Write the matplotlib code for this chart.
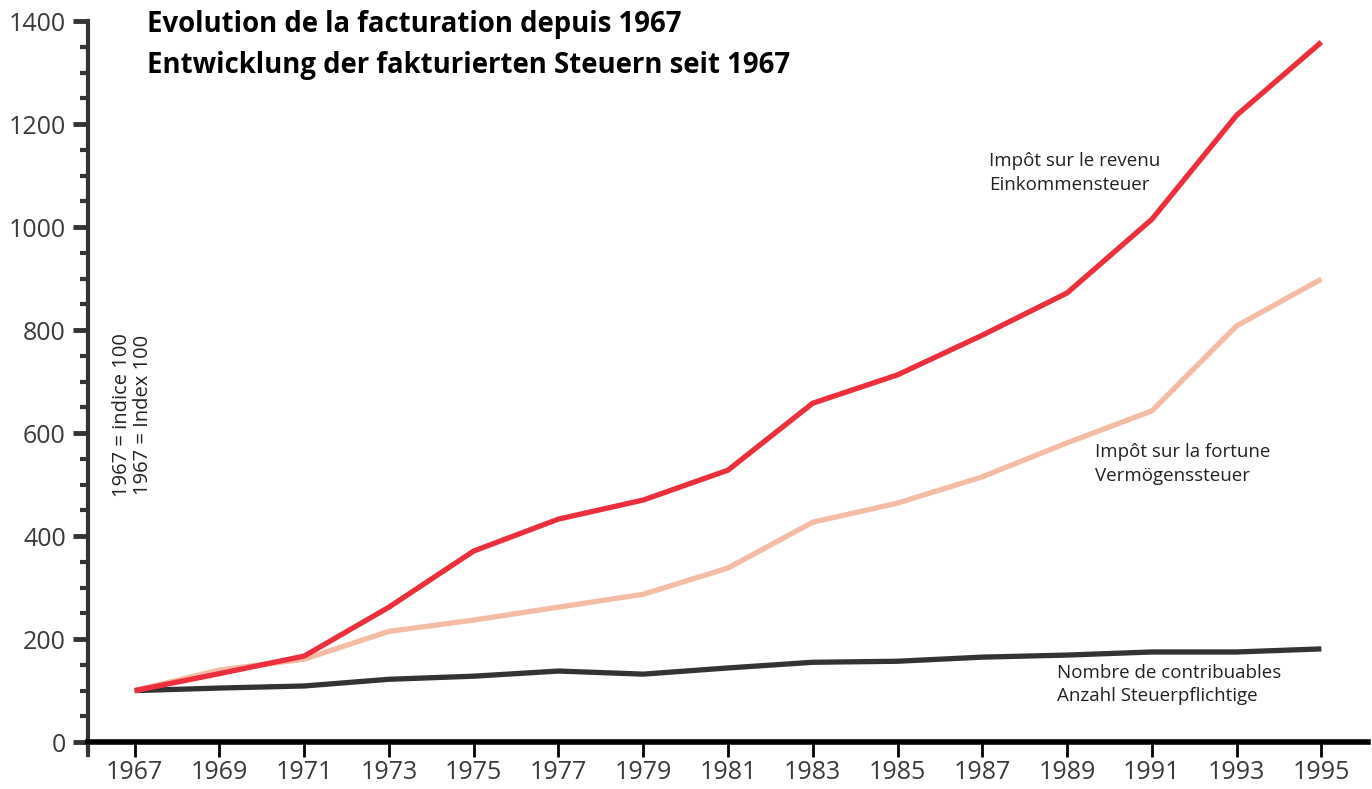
import matplotlib.pyplot as plt
from matplotlib.ticker import MultipleLocator

plt.rcParams['font.family'] = ['Open Sans', 'DejaVu Sans']

years = [1967, 1969, 1971, 1973, 1975, 1977, 1979, 1981, 1983, 1985, 1987, 1989, 1991, 1993, 1995]
revenu = [100, 133, 167, 262, 371, 433, 470, 528, 658, 713, 790, 872, 1015, 1217, 1359]
fortune = [100, 140, 161, 215, 237, 262, 287, 338, 427, 464, 515, 581, 643, 808, 899]
contribuables = [100, 105, 109, 122, 128, 138, 132, 144, 155, 157, 165, 169, 175, 175, 181]

fig = plt.figure(figsize=(13.72, 7.89), dpi=100)
ax = fig.add_axes([88/1372, 34/789, 1280/1372, 734/789])

ax.plot(years, contribuables, color='#333333', lw=3.8, solid_capstyle='butt', zorder=2)
ax.plot(years, fortune, color='#F5BBA3', lw=3.8, solid_capstyle='butt', zorder=3)
ax.plot(years, revenu, color='#EC2F3A', lw=3.8, solid_capstyle='butt', zorder=4)

ax.set_xlim(1965.9, 1996.1)
ax.set_ylim(-25, 1400)

ax.spines['top'].set_visible(False)
ax.spines['right'].set_visible(False)
ax.spines['bottom'].set_position(('data', 0))
ax.spines['bottom'].set_linewidth(4)
ax.spines['bottom'].set_color('black')
ax.spines['left'].set_linewidth(3)
ax.spines['left'].set_color('#333333')

ax.set_xticks(years)
ax.set_xticklabels([str(y) for y in years])
ax.yaxis.set_major_locator(MultipleLocator(200))
ax.yaxis.set_minor_locator(MultipleLocator(50))
ax.tick_params(axis='x', direction='out', length=11, width=2, color='black',
               labelsize=18, labelcolor='#3a3a3a', pad=2)
ax.tick_params(axis='y', which='major', direction='out', length=11, width=3.5, color='#333333',
               labelsize=18, labelcolor='#3a3a3a', pad=5)
ax.tick_params(axis='y', which='minor', direction='out', length=6, width=3, color='#333333')

ax.text(147/1372, 1 - 10/789, 'Evolution de la facturation depuis 1967\nEntwicklung der fakturierten Steuern seit 1967',
        transform=fig.transFigure, fontsize=19.8, fontweight='bold', va='top', ha='left',
        linespacing=1.55, color='black')

ax.text(1987.16, 1105, 'Impôt sur le revenu\nEinkommensteuer', fontsize=13.5,
        va='center', ha='left', color='#222222', linespacing=1.4)
ax.text(1989.66, 540, 'Impôt sur la fortune\nVermögenssteuer', fontsize=13.5,
        va='center', ha='left', color='#222222', linespacing=1.4)
ax.text(1988.76, 112, 'Nombre de contribuables\nAnzahl Steuerpflichtige', fontsize=13.5,
        va='center', ha='left', color='#222222', linespacing=1.4)
ax.text(1966.95, 635, '1967 = indice 100\n1967 = Index 100', fontsize=14.5, rotation=90,
        va='center', ha='center', color='#222222', linespacing=1.1)

fig.savefig('out.png', dpi=100)
